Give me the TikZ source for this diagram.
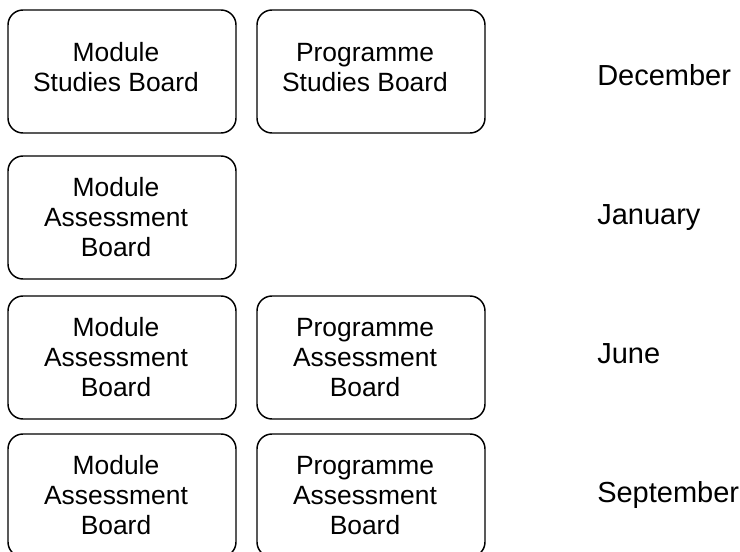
\documentclass[tikz,border=0pt]{standalone}
\usepackage{fontspec}
\setmainfont{Liberation Sans}
\usetikzlibrary{positioning}
\definecolor{sbInk}{HTML}{000000}
\tikzset{
  sb box/.style={draw=sbInk, line width=1.1pt, rounded corners=11.25pt,
    minimum width=171pt, minimum height=92.25pt, inner sep=0pt},
  sb text/.style={font=\fontsize{19.8}{22.5}\selectfont, text=sbInk,
    align=center, xshift=-4.5pt},
  sb month/.style={font=\fontsize{21.75}{26}\selectfont, text=sbInk,
    anchor=base west, inner sep=0pt}
}

\begin{document}
\begin{tikzpicture}[x=.75pt,y=-.75pt]
  \useasboundingbox (0,0) rectangle (740,552);

  % studies boards
  \node[sb box] (msb) at (122,71.5) {};
  \node[sb text, yshift=3pt] (msb-t) at (msb.center) {Module\\Studies Board};
  \node[sb box] (psb) at (371,71.5) {};
  \node[sb text, yshift=3pt] (psb-t) at (psb.center) {Programme\\Studies Board};

  % assessment boards
  \foreach \y/\n in {217.5/2,357.5/3,495.5/4} {
    \node[sb box] (mab\n) at (122,\y) {};
    \node[sb text] (mab\n-t) at (mab\n.center) {Module\\Assessment\\Board};
  }
  \foreach \y/\n in {357.5/3,495.5/4} {
    \node[sb box] (pab\n) at (371,\y) {};
    \node[sb text] (pab\n-t) at (pab\n.center) {Programme\\Assessment\\Board};
  }

  % months
  \foreach \y/\m in {86/December,225/January,364/June,503/September}
    \node[sb month] (m-\m) at (597,\y) {\m};
\end{tikzpicture}
\end{document}
